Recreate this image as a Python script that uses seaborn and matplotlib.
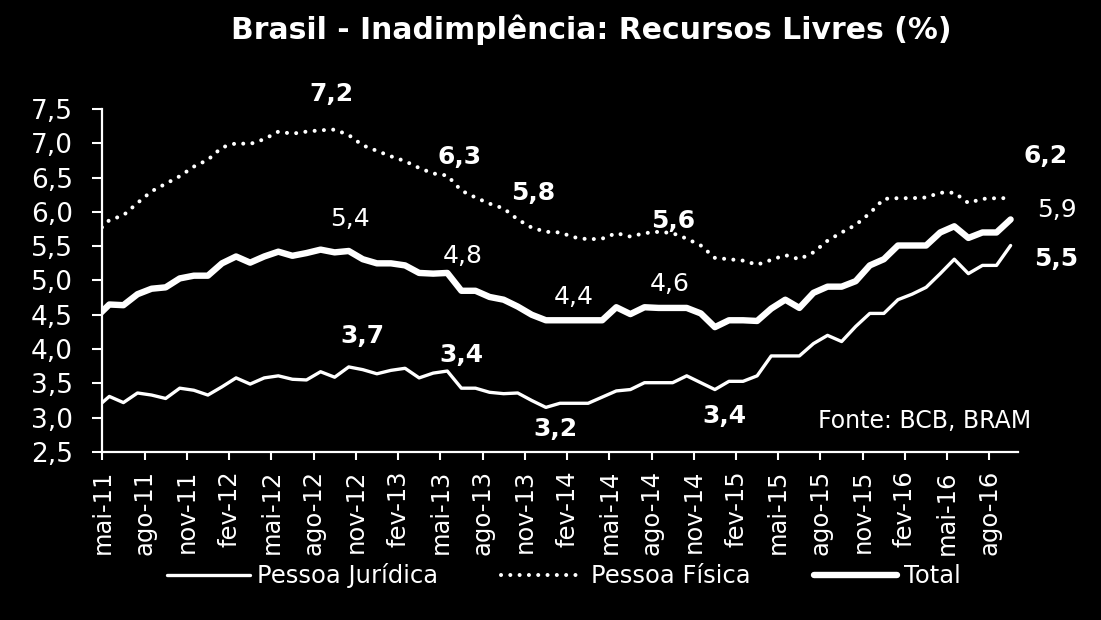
import numpy as np
import pandas as pd
import matplotlib
matplotlib.use("Agg")
import matplotlib.pyplot as plt
from matplotlib.ticker import FuncFormatter
import seaborn as sns

# ── Data (monthly, abr-11 .. set-16) ─────────────────────────────────────────
abbr = ["jan", "fev", "mar", "abr", "mai", "jun", "jul", "ago", "set", "out", "nov", "dez"]
meses = []
for ano in range(2011, 2017):
    for m in range(12):
        if (ano == 2011 and m < 3) or (ano == 2016 and m > 8):
            continue
        meses.append(f"{abbr[m]}-{str(ano)[2:]}")

pessoa_juridica = [3.13, 3.31, 3.22, 3.36, 3.33, 3.28, 3.43, 3.40, 3.33, 3.45,
                   3.58, 3.49, 3.58, 3.61, 3.56, 3.55, 3.67, 3.59, 3.74, 3.70,
                   3.64, 3.69, 3.72, 3.58, 3.65, 3.68, 3.43, 3.43, 3.37, 3.35,
                   3.36, 3.25, 3.15, 3.21, 3.21, 3.21, 3.30, 3.39, 3.41, 3.51,
                   3.51, 3.51, 3.61, 3.51, 3.41, 3.53, 3.53, 3.61, 3.90, 3.90,
                   3.90, 4.08, 4.20, 4.11, 4.33, 4.52, 4.52, 4.72, 4.80, 4.90,
                   5.10, 5.31, 5.10, 5.22, 5.22, 5.51]
pessoa_fisica = [5.68, 5.88, 5.95, 6.13, 6.30, 6.41, 6.52, 6.66, 6.76, 6.94,
                 7.00, 6.99, 7.06, 7.17, 7.14, 7.17, 7.19, 7.20, 7.12, 6.97,
                 6.89, 6.81, 6.74, 6.64, 6.56, 6.53, 6.31, 6.21, 6.12, 6.05,
                 5.89, 5.77, 5.71, 5.70, 5.63, 5.60, 5.61, 5.69, 5.64, 5.69,
                 5.71, 5.69, 5.61, 5.51, 5.33, 5.31, 5.29, 5.23, 5.30, 5.37,
                 5.31, 5.41, 5.58, 5.70, 5.81, 5.98, 6.19, 6.20, 6.20, 6.21,
                 6.28, 6.28, 6.13, 6.19, 6.20, 6.20]
total = [4.45, 4.65, 4.64, 4.80, 4.88, 4.90, 5.03, 5.07, 5.07, 5.25,
         5.35, 5.26, 5.35, 5.42, 5.36, 5.40, 5.45, 5.41, 5.43, 5.31,
         5.25, 5.25, 5.22, 5.11, 5.10, 5.11, 4.85, 4.85, 4.76, 4.72,
         4.62, 4.50, 4.42, 4.42, 4.42, 4.42, 4.42, 4.61, 4.51, 4.61,
         4.60, 4.60, 4.60, 4.52, 4.32, 4.42, 4.42, 4.41, 4.59, 4.72,
         4.60, 4.82, 4.91, 4.91, 4.99, 5.22, 5.31, 5.51, 5.51, 5.51,
         5.70, 5.79, 5.62, 5.70, 5.70, 5.89]

y_ticks = [2.5, 3.0, 3.5, 4.0, 4.5, 5.0, 5.5, 6.0, 6.5, 7.0, 7.5]

# value labels written on the chart
ann_text = ["7,2", "6,3", "5,8", "5,6", "6,2",
            "5,4", "4,8", "4,4", "4,6", "5,9",
            "3,7", "3,4", "3,2", "3,4", "5,5"]
ann_x = [16.3, 25.4, 30.6, 40.5, 67.0,
         17.6, 25.6, 33.5, 40.3, 67.8,
         18.5, 25.5, 32.2, 44.2, 67.7]
ann_y = [7.72, 6.80, 6.27, 5.87, 6.81,
         5.90, 5.36, 4.76, 4.95, 6.03,
         4.19, 3.91, 2.83, 3.02, 5.31]
ann_bold = [True, True, True, True, True,
            False, False, False, False, False,
            True, True, True, True, True]

# mid-month positions; axis starts at mai-11
pos = np.arange(len(meses)) - 0.5
df = pd.DataFrame({"pos": pos, "pj": pessoa_juridica, "pf": pessoa_fisica, "total": total})

# ── Style ────────────────────────────────────────────────────────────────────
sns.set_style("dark", rc={"axes.facecolor": "black", "figure.facecolor": "black",
                          "text.color": "white", "xtick.color": "white",
                          "ytick.color": "white", "axes.edgecolor": "white",
                          "axes.grid": False})
plt.rcParams["font.family"] = ["DejaVu Sans"]

fig = plt.figure(figsize=(11.01, 6.2), dpi=100)
ax = fig.add_axes([0.0929, 0.271, 0.8314, 0.5532])

sns.lineplot(data=df, x="pos", y="pj", ax=ax, color="white", lw=2.4,
             solid_capstyle="round", solid_joinstyle="round", label="Pessoa Jurídica")
sns.lineplot(data=df, x="pos", y="pf", ax=ax, color="white", lw=2.9,
             linestyle=(0, (0.01, 2.3)), dash_capstyle="round", label="Pessoa Física")
sns.lineplot(data=df, x="pos", y="total", ax=ax, color="white", lw=4.6,
             solid_capstyle="round", solid_joinstyle="round", label="Total")

ax.set_xlim(0, 65)
ax.set_ylim(2.5, 7.5)
ax.set_yticks(y_ticks)
ax.yaxis.set_major_formatter(FuncFormatter(lambda v, p: f"{v:.1f}".replace(".", ",")))
ax.set_xticks(np.arange(0, 64, 3))
ax.set_xticklabels(meses[1::3], rotation=90)
ax.tick_params(axis="y", labelsize=19, length=7, width=1.5, pad=14, direction="out", left=True)
ax.tick_params(axis="x", labelsize=17.5, length=6, width=1.5, pad=7, direction="out", bottom=True)
ax.set_xlabel("")
ax.set_ylabel("")
for side in ["top", "right"]:
    ax.spines[side].set_visible(False)
for side in ["left", "bottom"]:
    ax.spines[side].set_color("white")
    ax.spines[side].set_linewidth(1.6)

for t, x, y, b in zip(ann_text, ann_x, ann_y, ann_bold):
    ax.text(x, y, t, ha="center", va="center", fontsize=18, color="white",
            fontweight="bold" if b else "normal", clip_on=False)

ax.text(58.4, 2.95, "Fonte: BCB, BRAM", ha="center", va="center", fontsize=17, color="white")

fig.text(0.537, 0.952, "Brasil - Inadimplência: Recursos Livres (%)", ha="center", va="center",
         fontsize=21.5, fontweight="bold", color="white")

ax.legend(loc="center", bbox_to_anchor=(0.512, 0.071), bbox_transform=fig.transFigure,
          ncol=3, frameon=False, fontsize=17.5, handlelength=3.4, columnspacing=2.6,
          handletextpad=0.3, labelcolor="white")

plt.savefig("out.png", dpi=100, facecolor="black")
plt.close()
